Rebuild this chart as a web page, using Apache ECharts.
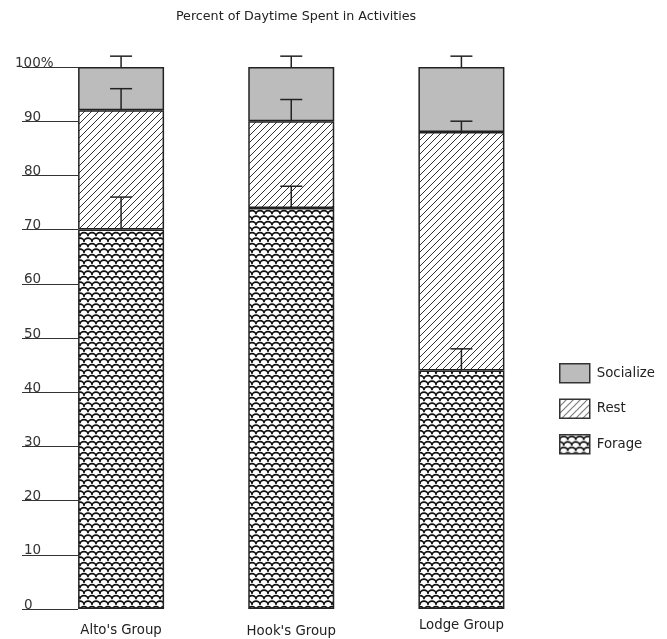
<!DOCTYPE html>
<html>
<head>
<meta charset="utf-8">
<script src="https://cdn.jsdelivr.net/npm/echarts@6/dist/echarts.min.js"></script>
<style>html,body{margin:0;padding:0;background:#fff;}#c{width:667px;height:639px;}</style>
</head>
<body>
<div id="c"></div>
<script>
var categories = ["Alto's Group", "Hook's Group", "Lodge Group"];
var forage = [70, 74, 44];
var rest = [22, 16, 44];
var socialize = [8, 10, 12];
var forageErrTop = [76, 78, 48];
var restErrTop = [96, 94, 90];
var socialErrTop = [102, 102, 102];
var yTicks = [0, 10, 20, 30, 40, 50, 60, 70, 80, 90, 100];

function hatchPattern() {
  var c = document.createElement('canvas');
  c.width = 7; c.height = 7;
  var g = c.getContext('2d');
  g.fillStyle = '#fff'; g.fillRect(0, 0, 7, 7);
  g.strokeStyle = '#333'; g.lineWidth = 1;
  g.beginPath();
  g.moveTo(-1, 8); g.lineTo(8, -1);
  g.moveTo(-1, 1); g.lineTo(1, -1);
  g.moveTo(6, 8); g.lineTo(8, 6);
  g.stroke();
  return c;
}
function scalePattern() {
  var c = document.createElement('canvas');
  c.width = 8; c.height = 11;
  var g = c.getContext('2d');
  g.fillStyle = '#fff'; g.fillRect(0, 0, 8, 11);
  g.strokeStyle = '#111'; g.lineWidth = 1.6;
  function cap(cx, cy) {
    g.beginPath(); g.ellipse(cx, cy, 4, 3.6, 0, Math.PI, 2 * Math.PI); g.stroke();
  }
  cap(4, 5.2); cap(0, 10.7); cap(8, 10.7);
  return c;
}

var errData = [];
for (var i = 0; i < categories.length; i++) {
  errData.push([i, forage[i], forageErrTop[i]]);
  errData.push([i, forage[i] + rest[i], restErrTop[i]]);
  errData.push([i, forage[i] + rest[i] + socialize[i], socialErrTop[i]]);
}

var border = { borderColor: '#222', borderWidth: 1.5 };
var chart = echarts.init(document.getElementById('c'));
chart.setOption({
  animation: false,
  backgroundColor: '#fff',
  title: {
    text: 'Percent of Daytime Spent in Activities',
    left: 291, top: 5, textAlign: 'center',
    textStyle: { fontFamily: 'DejaVu Sans', fontSize: 12.7, fontWeight: 'normal', color: '#222' }
  },
  legend: {
    orient: 'vertical', left: 559, top: 363, padding: 0,
    itemWidth: 30, itemHeight: 19, itemGap: 15, icon: 'rect',
    data: ['Socialize', 'Rest', 'Forage'],
    itemStyle: { borderColor: '#333', borderWidth: 1.5 },
    textStyle: { fontFamily: 'DejaVu Sans', fontSize: 13.3, color: '#222', padding: [0, 0, 0, 2] }
  },
  grid: { left: 36, right: 120.5, top: 67, bottom: 30 },
  xAxis: {
    type: 'category',
    data: [
      { value: categories[0], textStyle: { padding: [1, 0, 0, 0] } },
      { value: categories[1], textStyle: { padding: [2, 0, 0, 0] } },
      { value: categories[2], textStyle: { padding: [-4, 0, 0, 0] } }
    ],
    axisLine: { show: false }, axisTick: { show: false },
    axisLabel: { margin: 14, fontFamily: 'DejaVu Sans', fontSize: 13.3, color: '#222' }
  },
  yAxis: {
    type: 'value', min: 0, max: 100, interval: 10, offset: 14,
    axisLine: { show: false },
    axisTick: { show: true, inside: true, length: 56, lineStyle: { color: '#333', width: 1.2 } },
    splitLine: { show: false },
    axisLabel: {
      inside: true, margin: -7, verticalAlign: 'bottom',
      fontFamily: 'DejaVu Sans', fontSize: 13.5, color: '#333',
      formatter: function (v) { return v === 100 ? '{p|100%}' : '{n|' + v + '}'; },
      rich: {
        p: { fontFamily: 'DejaVu Sans', fontSize: 13.5, color: '#333', padding: [0, 0, -3, 0] },
        n: { fontFamily: 'DejaVu Sans', fontSize: 13.5, color: '#333', padding: [0, 0, -3, 9] }
      }
    }
  },
  series: [
    { name: 'Forage', type: 'bar', stack: 'a', barWidth: 86, data: forage,
      itemStyle: Object.assign({ color: { image: scalePattern(), repeat: 'repeat' } }, border) },
    { name: 'Rest', type: 'bar', stack: 'a', barWidth: 86, data: rest,
      itemStyle: Object.assign({ color: { image: hatchPattern(), repeat: 'repeat' } }, border) },
    { name: 'Socialize', type: 'bar', stack: 'a', barWidth: 86, data: socialize,
      itemStyle: Object.assign({ color: '#bcbcbc' }, border) },
    { name: 'err', type: 'custom', data: errData, clip: false, z: 10,
      renderItem: function (params, api) {
        var b = api.coord([api.value(0), api.value(1)]);
        var t = api.coord([api.value(0), api.value(2)]);
        var st = { stroke: '#222', lineWidth: 1.5 };
        return { type: 'group', children: [
          { type: 'line', shape: { x1: b[0], y1: b[1], x2: t[0], y2: t[1] }, style: st },
          { type: 'line', shape: { x1: t[0] - 11, y1: t[1], x2: t[0] + 11, y2: t[1] }, style: st }
        ] };
      }
    }
  ]
});
</script>
</body>
</html>
